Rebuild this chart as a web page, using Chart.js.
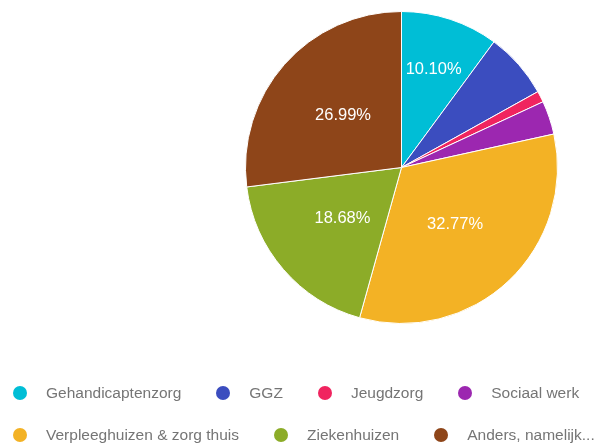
<!DOCTYPE html>
<html>
<head>
<meta charset="utf-8">
<script src="https://cdn.jsdelivr.net/npm/chart.js@4/dist/chart.umd.min.js"></script>
<style>
  html, body { margin: 0; padding: 0; background: #fff; }
  #wrap { position: relative; width: 597px; height: 444px; overflow: hidden; }
  #pie { position: absolute; left: 0; top: 0; }
  #legend {
    position: absolute; left: 13px; top: 372px; width: 640px;
    display: flex; flex-wrap: wrap;
    font-family: "Liberation Sans", Arial, sans-serif; font-size: 15.5px; color: #757575;
  }
  .item { display: flex; align-items: center; height: 42px; margin-right: 35px; white-space: nowrap; }
  .dot { width: 14px; height: 14px; border-radius: 50%; margin-right: 19px; }
</style>
</head>
<body>
<div id="wrap">
  <canvas id="pie" width="597" height="444"></canvas>
  <div id="legend"></div>
</div>
<script>
const categories = ['Gehandicaptenzorg', 'GGZ', 'Jeugdzorg', 'Sociaal werk', 'Verpleeghuizen & zorg thuis', 'Ziekenhuizen', 'Anders, namelijk...'];
const percentages = [10.10, 6.82, 1.16, 3.48, 32.77, 18.68, 26.99];
const sliceColors = ['#00BED6', '#3B4DBF', '#F0245F', '#9C27B0', '#F3B225', '#8CAC28', '#8E4519'];

// percentage text inside the bigger slices
const sliceLabels = {
    id: 'sliceLabels',
    afterDatasetsDraw(chart) {
        const ctx = chart.ctx;
        const meta = chart.getDatasetMeta(0);
        ctx.save();
        ctx.fillStyle = '#ffffff';
        ctx.font = '16.5px "Liberation Sans", Arial, sans-serif';
        ctx.textAlign = 'center';
        ctx.textBaseline = 'middle';
        meta.data.forEach(function(arc, i) {
            const value = percentages[i];
            if (value < 10) return;
            const p = arc.getProps(['x', 'y', 'startAngle', 'endAngle', 'outerRadius']);
            const mid = (p.startAngle + p.endAngle) / 2;
            const span = p.endAngle - p.startAngle;
            const r = p.outerRadius * (span > 1 ? 0.5 : 0.66);
            ctx.fillText(value.toFixed(2) + '%', p.x + Math.cos(mid) * r, p.y + Math.sin(mid) * r);
        });
        ctx.restore();
    }
};

new Chart(document.getElementById('pie'), {
    type: 'pie',
    data: {
        labels: categories,
        datasets: [{
            data: percentages,
            backgroundColor: sliceColors,
            borderColor: '#ffffff',
            borderWidth: 1
        }]
    },
    options: {
        responsive: false,
        animation: false,
        layout: { padding: { left: 245, right: 39, top: 11, bottom: 120 } },
        plugins: {
            legend: { display: false },
            tooltip: { enabled: false }
        }
    },
    plugins: [sliceLabels]
});

const legend = document.getElementById('legend');
categories.forEach(function(name, i) {
    const item = document.createElement('div');
    item.className = 'item';
    item.innerHTML = '<span class="dot" style="background:' + sliceColors[i] + '"></span><span>' + name + '</span>';
    legend.appendChild(item);
});
</script>
</body>
</html>
